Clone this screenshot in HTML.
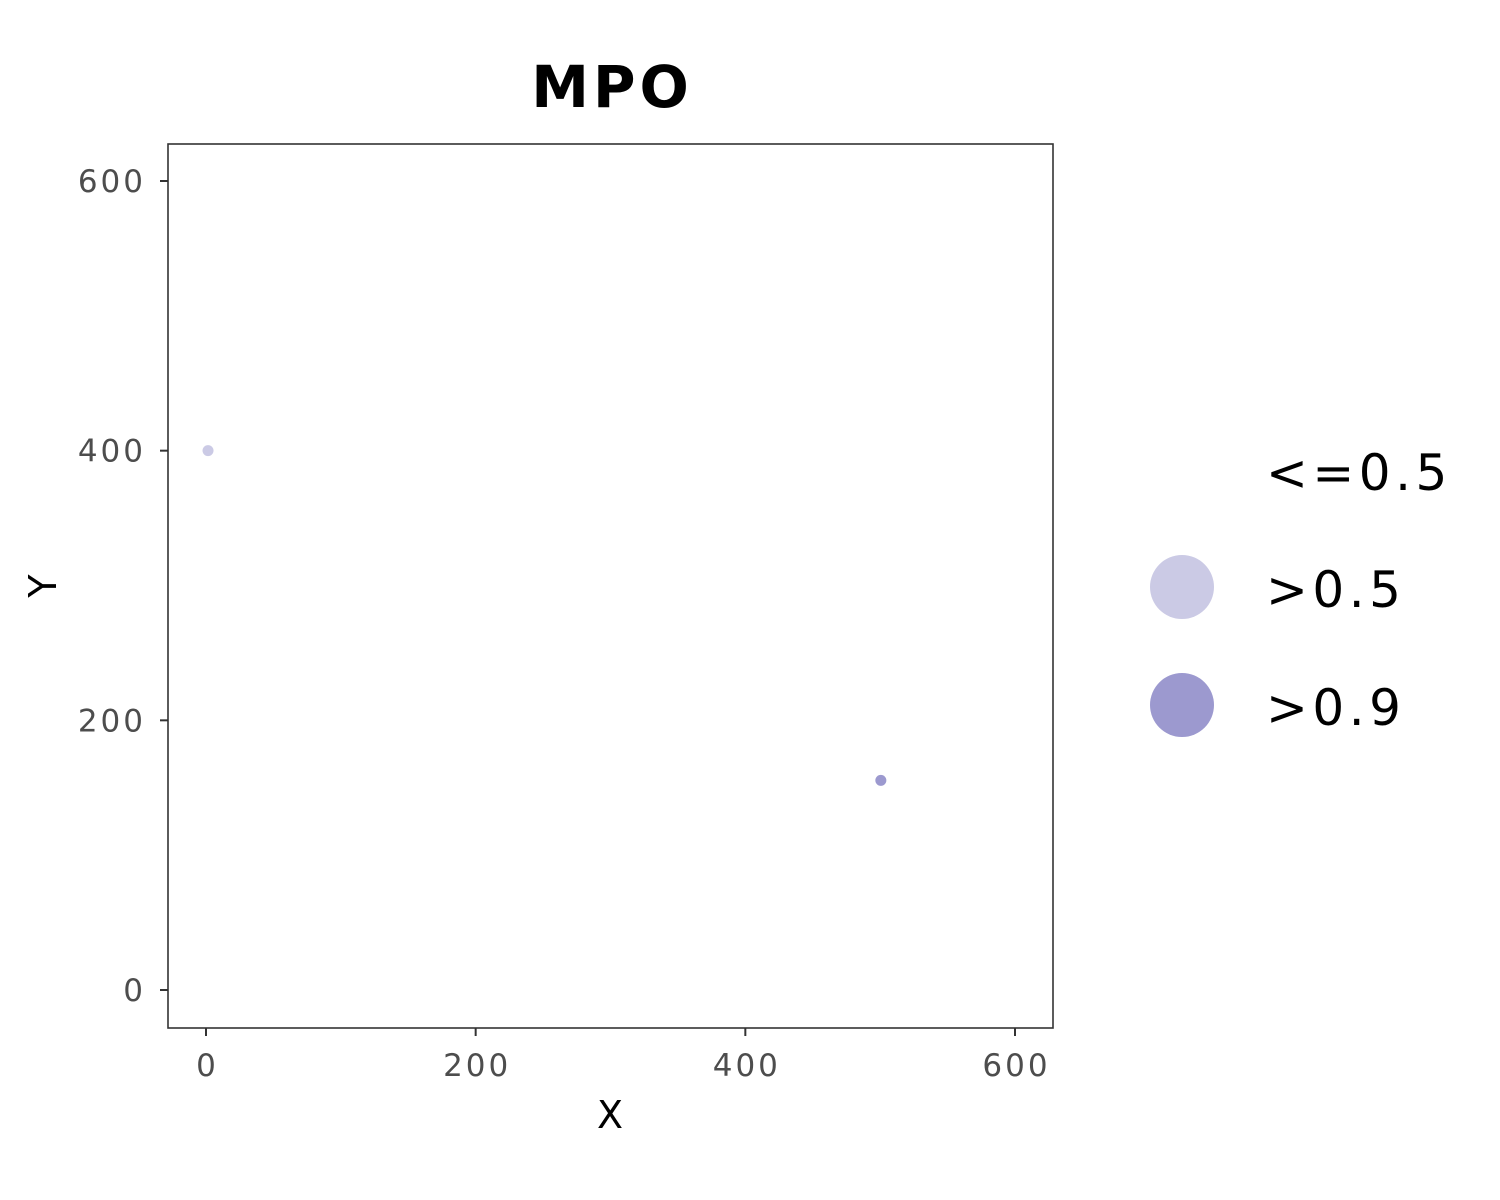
<!DOCTYPE html>
<html><head><meta charset="utf-8"><style>
html,body{margin:0;padding:0;background:#fff;}
svg{display:block;font-family:"DejaVu Sans","Liberation Sans",sans-serif;}
</style></head><body>
<svg width="1500" height="1200" viewBox="0 0 1500 1200" xmlns="http://www.w3.org/2000/svg" id="chart">
<rect width="1500" height="1200" fill="#fff"/>
<text x="612" y="107" text-anchor="middle" font-size="58" font-weight="bold" letter-spacing="4">MPO</text>
<g id="axes"></g>
<rect x="168" y="144" width="885" height="884" fill="none" stroke="#333" stroke-width="1.6"/>
<text x="610" y="1128" text-anchor="middle" font-size="38">X</text>
<text transform="translate(56,586) rotate(-90)" text-anchor="middle" font-size="38">Y</text>
<g letter-spacing="4.5">
<text x="1266" y="490" font-size="50">&lt;=0.5</text>
<circle cx="1182" cy="587" r="32" fill="#cbcae5"/>
<text x="1266" y="607" font-size="50">&gt;0.5</text>
<circle cx="1182" cy="705" r="32" fill="#9c99cf"/>
<text x="1266" y="725" font-size="50">&gt;0.9</text>
</g>
</svg>
<script>
const xTicks=[0,200,400,600];
const yTicks=[0,200,400,600];
const pointX=[1.5,500.5];
const pointY=[400,155.5];
const pointCat=["gt05","gt09"];
const catColor={gt05:"#cbcae5",gt09:"#9c99cf"};
const NS="http://www.w3.org/2000/svg";
const sx=v=>206+v*(1015-206)/600;
const sy=v=>990-v*(990-181)/600;
const g=document.getElementById('axes');
function mk(t,a){const e=document.createElementNS(NS,t);for(const k in a)e.setAttribute(k,a[k]);return e;}
xTicks.forEach(t=>{
 const l=mk('line',{x1:sx(t),x2:sx(t),y1:1028,y2:1036,stroke:'#333','stroke-width':2});
 
 
 g.appendChild(l);
 const tx=mk('text',{x:sx(t)+1.5,y:1076,'text-anchor':'middle','font-size':31,'letter-spacing':3,fill:'#4d4d4d'});
 tx.textContent=t;
 
 
 g.appendChild(tx);
});
yTicks.forEach(t=>{
 const l=mk('line',{x1:160,x2:168,y1:sy(t),y2:sy(t),stroke:'#333','stroke-width':2});
 
 
 g.appendChild(l);
 const tx=mk('text',{x:146,y:sy(t)+11,'text-anchor':'end','font-size':31,'letter-spacing':3,fill:'#4d4d4d'});
 tx.textContent=t;
 
 
 g.appendChild(tx);
});
pointX.forEach((x,i)=>{
 const c=mk('circle',{cx:sx(x),cy:sy(pointY[i]),r:5.5,fill:catColor[pointCat[i]]});
 
 
 g.appendChild(c);
});
</script>
</body></html>
